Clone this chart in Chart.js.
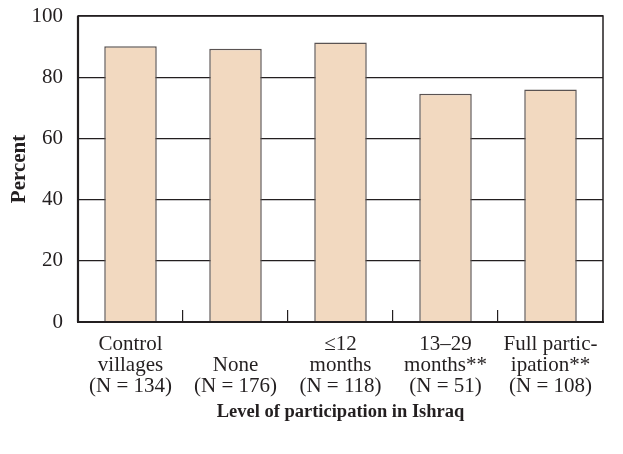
<!DOCTYPE html>
<html>
<head>
<meta charset="utf-8">
<script src="https://cdn.jsdelivr.net/npm/chart.js@4/dist/chart.umd.min.js"></script>
<style>
  html, body { margin: 0; padding: 0; background: #fff; }
  #wrap { width: 623px; height: 454px; }
</style>
</head>
<body>
<div id="wrap"><canvas id="chart" width="623" height="454"></canvas></div>
<script>
/* ── data ── */
const categories = [
    ['Control', 'villages', '(N = 134)'],
    ['', 'None', '(N = 176)'],
    ['\u226412', 'months', '(N = 118)'],
    ['13\u201329', 'months**', '(N = 51)'],
    ['Full partic-', 'ipation**', '(N = 108)'],
];
const percentValues = [90.1, 89.3, 91.3, 74.6, 76.0];
const yTicks = [0, 20, 40, 60, 80, 100];

const ink = '#231f20';
const serif = "'Liberation Serif', 'DejaVu Serif', serif";

/* frame round the plot area */
const framePlugin = {
    id: 'frame',
    afterDraw(chart) {
        const { ctx, chartArea: a } = chart;
        ctx.save();
        ctx.strokeStyle = ink;
        ctx.lineWidth = 1.5;
        ctx.strokeRect(a.left, a.top, a.right - a.left, a.bottom - a.top);
        ctx.lineWidth = 2.2;
        ctx.beginPath();
        ctx.moveTo(a.left - 1, a.bottom);
        ctx.lineTo(a.right + 1, a.bottom);
        ctx.moveTo(a.left, a.top);
        ctx.lineTo(a.left, a.bottom);
        ctx.stroke();
        ctx.restore();
    },
};

new Chart(document.getElementById('chart').getContext('2d'), {
    type: 'bar',
    data: {
        labels: categories,
        datasets: [{
            data: percentValues,
            backgroundColor: '#f2d9c0',
            borderColor: '#5a5352',
            borderWidth: 1.5,
            borderSkipped: 'bottom',
            barPercentage: 0.5,
            categoryPercentage: 1,
        }],
    },
    options: {
        responsive: false,
        animation: false,
        layout: { padding: { top: 16, right: 20, left: 7, bottom: 31 } },
        scales: {
            y: {
                min: 0, max: 100,
                afterFit: s => { s.width = 71; s.paddingTop = 0; s.paddingBottom = 0; },
                afterBuildTicks: s => { s.ticks = yTicks.map(v => ({ value: v })); },
                border: { display: false },
                grid: { color: ink, lineWidth: 1.2, drawTicks: false },
                ticks: { color: ink, padding: 15, font: { family: serif, size: 21 } },
                title: {
                    display: true, text: 'Percent', color: ink,
                    padding: { top: 0, bottom: 0 },
                    font: { family: serif, size: 21, weight: 'bold' },
                },
            },
            x: {
                afterFit: s => { s.height = 101; s.paddingLeft = 0; s.paddingRight = 0; },
                border: { display: false },
                grid: { drawOnChartArea: false, color: ink, lineWidth: 1.2, tickLength: -12 },
                ticks: { color: ink, padding: 24, maxRotation: 0, autoSkip: false, font: { family: serif, size: 21, lineHeight: 1.0 } },
                title: {
                    display: true, text: 'Level of participation in Ishraq', color: ink,
                    padding: { top: 0, bottom: 0 },
                    font: { family: serif, size: 18.5, weight: 'bold' },
                },
            },
        },
        plugins: {
            legend: { display: false },
            tooltip: { enabled: false },
        },
    },
    plugins: [framePlugin],
});
</script>
</body>
</html>
